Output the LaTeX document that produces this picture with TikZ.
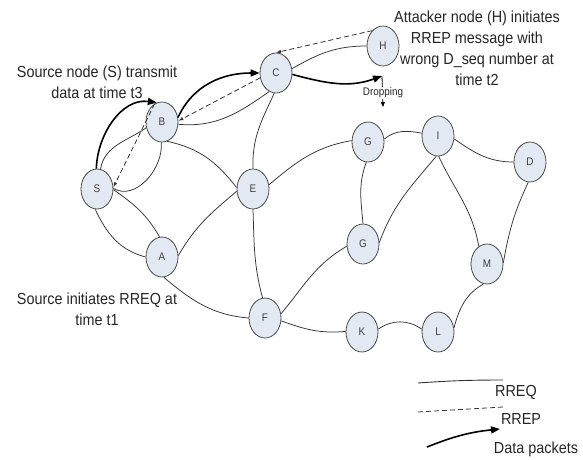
\documentclass[tikz,border=0pt]{standalone}
\usepackage{fontspec}
\setmainfont{Liberation Sans}
\newfontfamily\condfont[FakeStretch=0.9]{Liberation Sans}
\usetikzlibrary{shapes.geometric,arrows.meta}
\definecolor{nodefill}{HTML}{E3E9F3}
\definecolor{nodeline}{HTML}{4A4A4A}
\definecolor{edgecol}{HTML}{333333}
\tikzset{
  nd/.style={ellipse,draw=nodeline,fill=nodefill,line width=0.8pt,minimum width=32pt,minimum height=40pt,inner sep=0pt,font=\condfont\fontsize{11}{12}\selectfont,text=black!75},
  rreq/.style={draw=edgecol,line width=0.75pt},
  rrep/.style={draw=edgecol,line width=0.8pt,dash pattern=on 5pt off 3pt,-{Latex[length=5pt,width=3.5pt]}},
  data/.style={draw=black,line width=1.6pt,-{Triangle[length=9pt,width=7pt]}},
  lbl/.style={align=center,inner sep=0pt,font=\condfont\fontsize{16}{21}\selectfont,text=black!85},
  small/.style={inner sep=1pt,font=\condfont\fontsize{11}{12}\selectfont,text=black!85}
}
\begin{document}
\begin{tikzpicture}[x=1pt,y=1pt]
\useasboundingbox (0,0) rectangle (583,459);
\fill[white] (0,0) rectangle (583,459);
% nodes
\node[nd] (S) at (97,270) {S};
\node[nd] (B) at (162,337) {B};
\node[nd] (C) at (276,386) {C};
\node[nd] (E) at (253,270) {E};
\node[nd] (H) at (383,413) {H};
\node[nd] (Gt) at (368,317) {G};
\node[nd] (I) at (438,323) {I};
\node[nd] (D) at (530,297) {D};
\node[nd] (Gl) at (363,215) {G};
\node[nd] (M) at (487,195) {M};
\node[nd] (K) at (362,127) {K};
\node[nd] (L) at (438,127) {L};
\node[nd] (A) at (162,202) {A};
\node[nd] (F) at (265,141) {F};
% RREQ edges
\draw[rreq] (S.80) to[out=80,in=215] (B.200);
\draw[rreq] (B.268) to[out=-85,in=-30] (S.2);
\draw[rreq] (C.250) to[out=215,in=-5] (B.-8);
\draw[rreq] (B.-75) to[out=-12,in=128] (E.175);
\draw[rreq] (C.-95) to[out=-115,in=92] (E.north);
\draw[rreq] (S.-2) to[out=-35,in=120] (A.97);
\draw[rreq] (S.-95) to[out=-65,in=165] (A.west);
\draw[rreq] (A.5) to[out=60,in=220] (E.188);
\draw[rreq] (A.-85) to[out=-40,in=175] (F.west);
\draw[rreq] (E.south) to[out=-88,in=105] (F.97);
\draw[rreq] (E.15) to[out=40,in=190] (Gt.175);
\draw[rreq] (F.15) to[out=50,in=210] (Gl.188);
\draw[rreq] (F.-10) to[out=-20,in=185] (K.178);
\draw[rreq] (K.10) to[out=35,in=145] (L.170);
\draw[rreq] (L.15) to[out=75,in=210] (M.-100);
\draw[rreq] (M.5) to[out=80,in=245] (D.-95);
\draw[rreq] (I.-10) to[out=-35,in=180] (D.west);
\draw[rreq] (I.-88) to[out=-65,in=100] (M.115);
\draw[rreq] (I.-95) to[out=-130,in=70] (Gl.5);
\draw[rreq] (Gt.-95) to[out=-110,in=95] (Gl.north);
\draw[rreq] (Gt.10) to[out=40,in=170] (I.170);
\draw[rreq] (C.15) to[out=30,in=180] (H.west);
% RREP edges
\draw[rrep] (B.112) -- (S.6);
\draw[rrep] (C.197) -- (B.4);
\draw[rrep] (H.125) -- (C.north);
% data packets
\coordinate (drop) at (382,383);
\coordinate (dropend) at (383,352);
\draw[data] (S.92) to[out=88,in=172] (B.105);
\draw[data] (B.16) to[out=65,in=180] (C.west);
\draw[data] (C.-5) to[out=-15,in=200] (drop);
\draw[draw=black,line width=0.8pt,-{Triangle[length=5pt,width=4pt]}] (drop) -- (dropend);
\node[small,fill=white] (dropping) at (383,366) {Dropping};
% labels
\node[lbl] (t3) at (97,376.5) {Source node (S) transmit\\data at time t3};
\node[lbl] (t2) at (477,410.5) {Attacker node (H) initiates\\RREP message with\\wrong D\_seq number at\\time t2};
\node[lbl] (t1) at (97,149.5) {Source initiates RREQ at\\time t1};
% legend
\coordinate (q1) at (418,76);
\coordinate (q2) at (503,79);
\coordinate (p1) at (418,47);
\coordinate (p2) at (503,52);
\coordinate (d1) at (427,12);
\coordinate (d2) at (500,30);
\draw[rreq,line width=0.9pt] (q1) to[bend left=2] (q2);
\draw[rrep,-] (p1) -- (p2);
\draw[data] (d1) to[bend left=8] (d2);
\node[lbl] (lq) at (516,67) {RREQ};
\node[lbl] (lp) at (521,40) {RREP};
\node[lbl] (ld) at (536,10) {Data packets};
\end{tikzpicture}
\end{document}
